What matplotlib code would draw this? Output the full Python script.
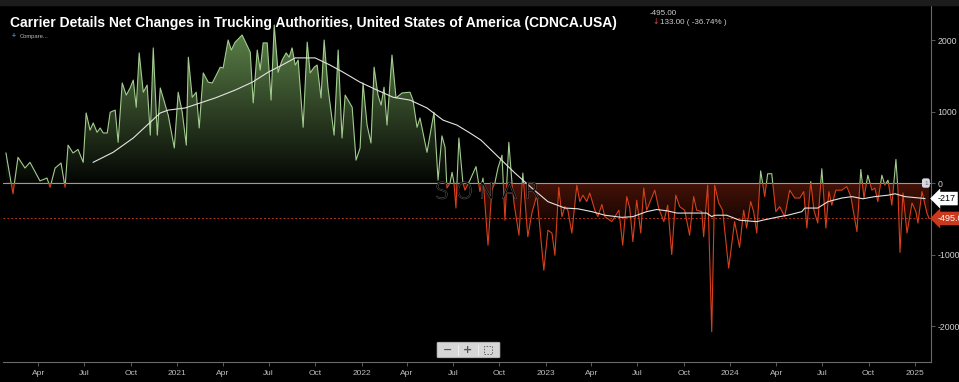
import numpy as np
import pandas as pd
import matplotlib
matplotlib.use("Agg")
import matplotlib.pyplot as plt
import matplotlib.dates as mdates
import matplotlib.patheffects as pe
from matplotlib.patches import Rectangle, FancyBboxPatch

plt.rcParams['font.family'] = ['Liberation Sans', 'DejaVu Sans']
plt.rcParams['axes.unicode_minus'] = False

# ---------------- data ----------------
week_dates = [
    2020.073, 2020.111, 2020.138, 2020.176, 2020.203, 2020.257, 2020.295, 2020.312, 2020.339, 2020.371,
    2020.393, 2020.409, 2020.436, 2020.463, 2020.491, 2020.507, 2020.528, 2020.545, 2020.566, 2020.583,
    2020.599, 2020.621, 2020.637, 2020.664, 2020.680, 2020.702, 2020.724, 2020.745, 2020.762, 2020.778,
    2020.794, 2020.816, 2020.837, 2020.854, 2020.870, 2020.892, 2020.908, 2020.951, 2020.984,
    2021.005, 2021.027, 2021.049, 2021.060, 2021.081, 2021.103, 2021.119, 2021.141, 2021.168, 2021.190,
    2021.206, 2021.233, 2021.249, 2021.276, 2021.293, 2021.314, 2021.352, 2021.385, 2021.396, 2021.412,
    2021.434, 2021.450, 2021.466, 2021.488, 2021.509, 2021.526, 2021.547, 2021.569, 2021.591, 2021.607,
    2021.623, 2021.640, 2021.656, 2021.683, 2021.705, 2021.721, 2021.743, 2021.759, 2021.780, 2021.797,
    2021.818, 2021.851, 2021.873, 2021.894, 2021.911, 2021.949, 2021.970, 2021.992,
    2022.008, 2022.030, 2022.051, 2022.068, 2022.089, 2022.106, 2022.122, 2022.138, 2022.165, 2022.187,
    2022.220, 2022.263, 2022.279, 2022.301, 2022.317, 2022.355, 2022.393, 2022.415, 2022.436, 2022.453,
    2022.463, 2022.480, 2022.491, 2022.501, 2022.512, 2022.528, 2022.550, 2022.561, 2022.588, 2022.621,
    2022.642, 2022.659, 2022.686, 2022.707, 2022.724, 2022.740, 2022.762, 2022.778, 2022.799, 2022.816,
    2022.827, 2022.854, 2022.875, 2022.902, 2022.924, 2022.951, 2022.989,
    2023.011, 2023.033, 2023.049, 2023.070, 2023.087, 2023.103, 2023.119, 2023.141, 2023.168, 2023.184,
    2023.201, 2023.222, 2023.238, 2023.266, 2023.282, 2023.304, 2023.320, 2023.358, 2023.396, 2023.417,
    2023.439, 2023.455, 2023.472, 2023.493, 2023.515, 2023.531, 2023.547, 2023.569, 2023.591, 2023.612,
    2023.640, 2023.661, 2023.683, 2023.705, 2023.726, 2023.753, 2023.780, 2023.802, 2023.818, 2023.846,
    2023.856, 2023.878, 2023.900, 2023.916, 2023.938, 2023.959, 2023.992,
    2024.024, 2024.051, 2024.073, 2024.089, 2024.111, 2024.127, 2024.144, 2024.165, 2024.187, 2024.203,
    2024.225, 2024.247, 2024.268, 2024.295, 2024.322, 2024.350, 2024.377, 2024.398, 2024.415, 2024.436,
    2024.453, 2024.474, 2024.496, 2024.518, 2024.534, 2024.550, 2024.572, 2024.604, 2024.631, 2024.653,
    2024.686, 2024.707, 2024.724, 2024.745, 2024.767, 2024.783, 2024.799, 2024.821, 2024.837, 2024.854,
    2024.875, 2024.897, 2024.908, 2024.919, 2024.935, 2024.957, 2024.984,
    2025.005, 2025.016, 2025.038, 2025.065, 2025.076,
]
net_change = [
    420, -150, 360, 210, 290, 30, 70, -60, 210, 280,
    -60, 530, 420, 470, 290, 980, 740, 840, 710, 770,
    700, 700, 990, 1020, 570, 1400, 1230, 1330, 1440, 1060,
    1820, 1270, 1370, 670, 1890, 670, 1330, 950, 490,
    1270, 990, 530, 1760, 1200, 1270, 770, 1540, 1410, 1400,
    1480, 1620, 1610, 2000, 1860, 1970, 2070, 1890, 1830, 1120,
    1860, 1580, 1960, 1960, 1160, 2210, 1550, 1720, 1820, 1760,
    1890, 1650, 1720, 780, 1970, 1540, 1620, 1650, 1190, 2000,
    1330, 670, 1860, 630, 1230, 1060, 320, 490,
    1400, 810, 560, 1620, 1230, 1090, 1340, 810, 1790, 1190,
    1260, 1270, 1160, 780, 910, 430, 990, 40, 660, 500,
    -70, 0, 150, 10, -350, 630, 0, -100, 40, 230,
    -120, 70, -870, -100, 10, 210, 390, -520, 570, 10,
    -280, -730, 140, -750, -420, -170, -1220,
    -660, -700, -1010, -60, -470, -330, -380, -700, -30, -260,
    -170, -260, -140, -380, -470, -300, -470, -540, -380, -870,
    -190, -350, -820, -240, -700, -70, -380, -240, -100, -350,
    -540, -310, -1000, -170, -330, -380, -730, -190, -380, -400,
    -750, -30, -2080, -30, -280, -380, -1190,
    -540, -900, -380, -630, -260, -400, -700, 170, -190, 130,
    130, -400, -330, -470, -100, -210, -210, -120, -630, 20,
    -380, -560, 200, -630, -120, -310, -100, -100, -50, -190,
    -680, 190, -210, 110, -100, -70, -260, 110, -30, 40,
    -310, 330, -100, -970, -140, -700, -280,
    -400, -560, -120, -420, -495,
]
avg_dates = [
    2020.545, 2020.653, 2020.762, 2020.837, 2020.908, 2020.951, 2021.043, 2021.136, 2021.206, 2021.314,
    2021.407, 2021.493, 2021.569, 2021.640, 2021.748, 2021.829, 2021.900, 2021.992, 2022.084, 2022.171,
    2022.263, 2022.355, 2022.442, 2022.518, 2022.588, 2022.648, 2022.740, 2022.832, 2022.924, 2023.011,
    2023.103, 2023.173, 2023.249, 2023.320, 2023.412, 2023.472, 2023.547, 2023.602, 2023.661, 2023.710,
    2023.780, 2023.873, 2023.900, 2023.916, 2023.981, 2024.051, 2024.144, 2024.176, 2024.268, 2024.312,
    2024.388, 2024.404, 2024.474, 2024.529, 2024.604, 2024.659, 2024.718, 2024.783, 2024.854, 2024.892,
    2024.946, 2025.054,
]
avg_values = [
    290, 430, 630, 810, 980, 1020, 1050, 1130, 1190, 1300,
    1410, 1550, 1650, 1750, 1750, 1650, 1550, 1410, 1300, 1200,
    1160, 1050, 880, 810, 700, 600, 370, 140, -70, -260,
    -350, -360, -400, -450, -480, -470, -400, -370, -390, -420,
    -420, -420, -470, -450, -450, -520, -540, -520, -470, -450,
    -400, -350, -350, -260, -210, -190, -220, -190, -170, -150,
    -190, -217,
]
y_ticks = [-2000, -1000, 0, 1000, 2000]
title = "Carrier Details Net Changes in Trucking Authorities, United States of America (CDNCA.USA)"
last_value_text = "-495.00"
change_text = "133.00 ( -36.74% )"
x_range = [2020.057, 2025.087]
y_range = [-2503, 2490]


def to_dt(years):
    out = []
    for y in years:
        yi = int(np.floor(y))
        s = pd.Timestamp(yi, 1, 1)
        e = pd.Timestamp(yi + 1, 1, 1)
        out.append(s + (e - s) * (y - yi))
    return pd.DatetimeIndex(out)


dates = to_dt(week_dates)
vals = np.array(net_change, dtype=float)
adates = to_dt(avg_dates)
avals = np.array(avg_values, dtype=float)

W, H = 959, 382
fig = plt.figure(figsize=(W / 100, H / 100), dpi=100, facecolor='black')
ax = fig.add_axes([3 / W, 20 / H, 928 / W, 357 / H])
ax.set_facecolor('black')

xl = to_dt(x_range)
x0n, x1n = mdates.date2num(xl[0]), mdates.date2num(xl[1])

# gradient fill clipped to the area between the curve and zero
ny = 600
yy = np.linspace(y_range[0], y_range[1], ny)
grad = np.zeros((ny, 1, 4))
pos = yy >= 0
grad[pos, 0, :3] = np.array([0.38, 0.53, 0.30])
grad[pos, 0, 3] = np.clip(yy[pos] / 2200.0, 0, 1) * 0.95 + 0.04
grad[~pos, 0, :3] = np.array([0.50, 0.13, 0.05])
grad[~pos, 0, 3] = np.clip(1 + yy[~pos] / 800.0, 0, 1) * 0.55
im = ax.imshow(grad, extent=[x0n, x1n, y_range[0], y_range[1]], origin='lower',
               aspect='auto', interpolation='bilinear', zorder=1)
poly = ax.fill_between(dates, vals, 0, facecolor='none', edgecolor='none')
im.set_clip_path(poly.get_paths()[0], transform=ax.transData)
ax.set_xlim(xl[0], xl[1])
ax.set_ylim(y_range)

# value line, green above zero / red below zero
clip_up = Rectangle((x0n, 0), x1n - x0n, 10000, transform=ax.transData)
clip_dn = Rectangle((x0n, -10000), x1n - x0n, 10000, transform=ax.transData)
l1, = ax.plot(dates, vals, color='#a2cc8e', lw=0.8, zorder=3)
l1.set_clip_path(clip_up)
l2, = ax.plot(dates, vals, color='#d8401c', lw=0.8, zorder=3)
l2.set_clip_path(clip_dn)

# moving average
ax.plot(adates, avals, color='#e4e4e4', lw=0.8, zorder=4)

ax.axhline(0, color='#9a9a9a', lw=0.8, zorder=2)
ax.axhline(net_change[-1], color='#b3361c', lw=0.7, ls=(0, (2, 2)), zorder=2)

# axes styling
for s in ['top', 'left']:
    ax.spines[s].set_visible(False)
for s in ['right', 'bottom']:
    ax.spines[s].set_color('#6a6a6a')
    ax.spines[s].set_linewidth(0.8)
ax.yaxis.tick_right()
ax.set_yticks(y_ticks)
ax.set_yticklabels([str(v) for v in y_ticks])
ax.tick_params(axis='y', colors='#6a6a6a', labelcolor='#cfcfcf', labelsize=6.3, length=3, width=0.6, pad=1.5)
ax.tick_params(axis='x', colors='#6a6a6a', labelcolor='#bdbdbd', labelsize=6, length=3, width=0.6, pad=3)
ax.xaxis.set_major_locator(mdates.MonthLocator(bymonth=[1, 4, 7, 10]))


def fmt(x, pos=None):
    d = mdates.num2date(x)
    return d.strftime('%Y') if d.month == 1 else d.strftime('%b')


ax.xaxis.set_major_formatter(plt.FuncFormatter(fmt))

# right-side labels
ytr = ax.get_yaxis_transform()
ax.text(1.007, avg_values[-1], str(avg_values[-1]), transform=ytr, fontsize=6.5, color='black',
        ha='left', va='center', zorder=6, clip_on=False,
        bbox=dict(boxstyle='larrow,pad=0.25', fc='white', ec='none'))
ax.text(1.007, net_change[-1], last_value_text, transform=ytr, fontsize=6.5, color='white',
        ha='left', va='center', zorder=6, clip_on=False,
        bbox=dict(boxstyle='larrow,pad=0.25', fc='#c9391b', ec='none'))
ax.text(0.9945, 0, "1", transform=ytr, fontsize=4.5, color='#666', ha='center', va='center', zorder=6,
        bbox=dict(boxstyle='round,pad=0.35', fc='#d8d8e2', ec='none'))

# header
fig.patches.append(Rectangle((0, 1 - 5 / H), 1, 5 / H, transform=fig.transFigure, color='#1c1c1c', zorder=0))
fig.text(10 / W, 1 - 27 / H, title, fontsize=10, fontweight='bold', color='white', ha='left', va='baseline')
fig.text(12 / W, 1 - 38 / H, "+", fontsize=5, color='#4f86e0', ha='left', va='baseline', fontweight='bold')
fig.text(20 / W, 1 - 38 / H, "Compare...", fontsize=4.2, color='#bbbbbb', ha='left', va='baseline')
fig.text(650 / W, 1 - 15 / H, last_value_text, fontsize=5.8, color='#cccccc', ha='left', va='baseline')
fig.text(652 / W, 1 - 24 / H, "\u2193", fontsize=5.5, color='#e04848', ha='left', va='baseline',
         family=['DejaVu Sans'])
fig.text(660 / W, 1 - 24 / H, change_text, fontsize=5.8, color='#cccccc', ha='left', va='baseline')

# watermark (hollow letters)
for i, ch in enumerate("SONAR"):
    fig.text((442 + i * 22.5) / W, 1 - 192.5 / H, ch, fontsize=16, color='black', ha='center',
             va='center', family=['DejaVu Sans'], fontweight='light', zorder=5,
             path_effects=[pe.Stroke(linewidth=0.6, foreground='#666666'), pe.Normal()])

# zoom buttons
fig.patches.append(FancyBboxPatch((439 / W, 1 - 357 / H), 59 / W, 14 / H, boxstyle='round,pad=0.002',
                                  transform=fig.transFigure, fc='#d6d6d6', ec='#bdbdbd', lw=0.5, zorder=6))
fig.text(448 / W, 1 - 350 / H, "\u2212", fontsize=8, color='#555', ha='center', va='center', zorder=7,
         family=['DejaVu Sans'], fontweight='bold')
fig.text(468 / W, 1 - 350 / H, "+", fontsize=8, color='#555', ha='center', va='center', zorder=7,
         family=['DejaVu Sans'], fontweight='bold')
for xs in (458, 478):
    fig.lines.append(plt.Line2D([xs / W, xs / W], [1 - 355 / H, 1 - 345 / H], transform=fig.transFigure,
                                color='#f2f2f2', lw=0.6, zorder=7))
fig.patches.append(Rectangle((484 / W, 1 - 354 / H), 8 / W, 8 / H, transform=fig.transFigure, fill=False,
                             ec='#666', lw=0.7, ls=(0, (1.5, 1.5)), zorder=7))

fig.savefig('out.png', dpi=100, facecolor='black')
